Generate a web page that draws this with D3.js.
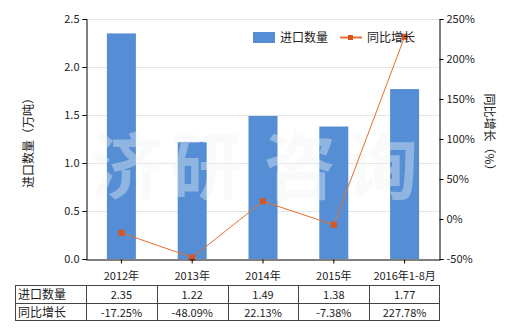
<!DOCTYPE html>
<html><head><meta charset="utf-8">
<script src="https://cdn.jsdelivr.net/npm/d3@7"></script>
<style>body{margin:0;background:#fff}svg{display:block;font-family:"Noto Sans CJK SC","Noto Sans",sans-serif}</style>
</head><body><svg id="c" width="520" height="330"></svg>
<script>
const categories = ["2012年","2013年","2014年","2015年","2016年1-8月"];
const importQty = [2.35,1.22,1.49,1.38,1.77];
const yoyGrowth = [-17.25,-48.09,22.13,-7.38,227.78];
const qtyLabels = ["2.35","1.22","1.49","1.38","1.77"];
const growthLabels = ["-17.25%","-48.09%","22.13%","-7.38%","227.78%"];
const leftTicks = [0,0.5,1.0,1.5,2.0,2.5];
const rightTicks = [-50,0,50,100,150,200,250];

const svg = d3.select("#c");
const L=86,R=440,T=19,B=259;
const x = d3.scaleBand().domain(categories).range([L,R]).padding(0);
const yL = d3.scaleLinear().domain([0,2.5]).range([B,T]);
const yR = d3.scaleLinear().domain([-50,250]).range([B,T]);

// grid
svg.append("g").selectAll("line").data(leftTicks.slice(1)).join("line")
  .attr("x1",L).attr("x2",R).attr("y1",d=>yL(d)+0.5).attr("y2",d=>yL(d)+0.5)
  .attr("stroke","#e6e6e6");

// bars
const bw = 29;
svg.append("g").selectAll("rect").data(importQty).join("rect")
  .attr("x",(d,i)=>x(categories[i])+x.bandwidth()/2-bw/2).attr("width",bw)
  .attr("y",d=>yL(d)).attr("height",d=>B-yL(d)).attr("fill","#558ed5");

// watermark
const wm = ["济","研","咨","询"], wmx=[127,206,300,382];
svg.append("g").selectAll("text").data(wm).join("text")
  .attr("x",(d,i)=>wmx[i]).attr("y",193).attr("text-anchor","middle")
  .attr("font-size",72).attr("font-weight","bold").attr("fill","#f0f5f4").attr("opacity",0.38).text(d=>d);

// line
const line = d3.line().x((d,i)=>x(categories[i])+x.bandwidth()/2).y(d=>yR(d));
svg.append("path").datum(yoyGrowth).attr("d",line).attr("fill","none").attr("stroke","#e8702a").attr("stroke-width",1);
svg.append("g").selectAll("rect").data(yoyGrowth).join("rect")
  .attr("x",(d,i)=>x(categories[i])+x.bandwidth()/2-3).attr("y",d=>yR(d)-3)
  .attr("width",6).attr("height",6).attr("fill","#d9541e");

// axes
const axL = d3.axisLeft(yL).tickValues(leftTicks).tickFormat(d3.format(".1f")).tickSize(4);
const gL = svg.append("g").attr("transform",`translate(${L+0.5},0)`).call(axL);
const axR = d3.axisRight(yR).tickValues(rightTicks).tickFormat(d=>d+"%").tickSize(4);
const gR = svg.append("g").attr("transform",`translate(${R-0.5},0)`).call(axR);
const axB = d3.axisBottom(x).tickSize(4).tickSizeOuter(0);
const gB = svg.append("g").attr("transform",`translate(0,${B+0.5})`).call(axB);
[gL,gR,gB].forEach(g=>{g.selectAll("path,line").attr("stroke","#000");g.selectAll("text").attr("font-size",11).attr("fill","#222").attr("font-family","'Noto Sans CJK SC',sans-serif");});
gB.selectAll("text").attr("dy","1.2em");

// axis titles
svg.append("text").attr("transform","translate(33,140) rotate(-90)").attr("text-anchor","middle")
  .attr("font-size",12).attr("fill","#222").text("进口数量（万吨）");
svg.append("text").attr("transform","translate(485,135) rotate(90)").attr("text-anchor","middle")
  .attr("font-size",12).attr("fill","#222").text("同比增长（%）");

// legend
svg.append("rect").attr("x",253).attr("y",32).attr("width",22).attr("height",11).attr("fill","#558ed5");
svg.append("text").attr("x",280).attr("y",42).attr("font-size",12).attr("fill","#222").text("进口数量");
svg.append("line").attr("x1",340).attr("x2",362).attr("y1",37.5).attr("y2",37.5).attr("stroke","#e8702a").attr("stroke-width",2);
svg.append("rect").attr("x",348).attr("y",35).attr("width",5).attr("height",5).attr("fill","#d9541e");
svg.append("text").attr("x",367).attr("y",42).attr("font-size",12).attr("fill","#222").text("同比增长");

// table
const tT=285.5, tM=303.5, tB=320.5, tLx=15.5;
const tg = svg.append("g").attr("stroke","#444").attr("fill","none");
tg.append("rect").attr("x",tLx).attr("y",tT).attr("width",R-0.5-tLx).attr("height",tB-tT);
tg.append("line").attr("x1",tLx).attr("x2",R-0.5).attr("y1",tM).attr("y2",tM);
tg.selectAll("line.v").data(categories).join("line").attr("class","v")
  .attr("x1",d=>Math.round(x(d))+0.5).attr("x2",d=>Math.round(x(d))+0.5).attr("y1",tT).attr("y2",tB);
svg.append("text").attr("x",18).attr("y",299).attr("font-size",12).attr("fill","#222").text("进口数量");
svg.append("text").attr("x",18).attr("y",317).attr("font-size",12).attr("fill","#222").text("同比增长");
svg.append("g").selectAll("text").data(qtyLabels).join("text")
  .attr("x",(d,i)=>x(categories[i])+x.bandwidth()/2).attr("y",299).attr("text-anchor","middle")
  .attr("font-size",11).attr("fill","#222").text(d=>d);
svg.append("g").selectAll("text").data(growthLabels).join("text")
  .attr("x",(d,i)=>x(categories[i])+x.bandwidth()/2).attr("y",317).attr("text-anchor","middle")
  .attr("font-size",11).attr("fill","#222").text(d=>d);
</script></body></html>
